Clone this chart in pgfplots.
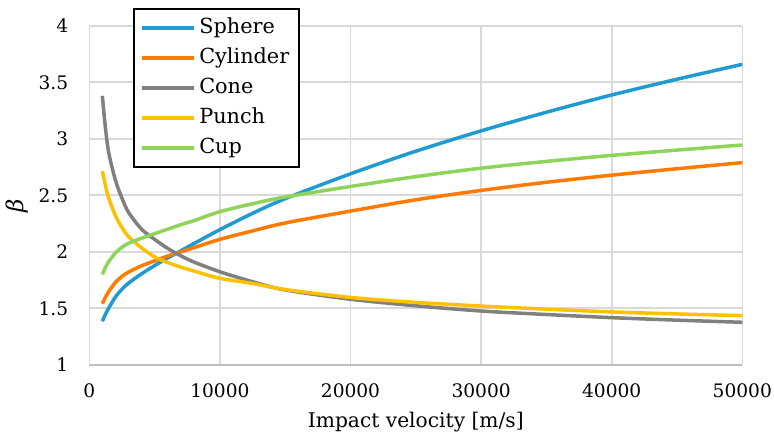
\documentclass[border=0pt]{standalone}
\usepackage{pgfplots}
\pgfplotsset{compat=1.18}
\usepackage{pgfplotstable}
\usepackage{fontspec}
\setmainfont{DejaVu Serif}
\definecolor{csph}{HTML}{1F9BD1}
\definecolor{ccyl}{HTML}{FF7B00}
\definecolor{ccone}{HTML}{808080}
\definecolor{cpun}{HTML}{FFC000}
\definecolor{ccup}{HTML}{8ED45A}
\definecolor{gridc}{HTML}{D9D9D9}
\definecolor{axc}{HTML}{BFBFBF}

\pgfplotstableread{
v sphere cylinder cone punch cup
1000 1.385 1.540 3.380 2.714 1.800
1250 1.450 1.600 3.080 2.580 1.865
1500 1.505 1.650 2.870 2.470 1.915
2000 1.600 1.728 2.634 2.320 1.990
2500 1.668 1.782 2.475 2.215 2.040
3000 1.722 1.820 2.350 2.135 2.075
4000 1.805 1.876 2.200 2.035 2.120
5000 1.878 1.920 2.110 1.955 2.160
6000 1.945 1.962 2.030 1.905 2.200
7000 2.008 1.999 1.965 1.865 2.240
8000 2.072 2.036 1.910 1.830 2.275
10000 2.196 2.110 1.823 1.765 2.355
12500 2.340 2.185 1.735 1.720 2.425
15000 2.470 2.255 1.662 1.666 2.485
20000 2.690 2.360 1.580 1.596 2.578
25000 2.890 2.460 1.522 1.552 2.665
30000 3.070 2.543 1.476 1.520 2.740
35000 3.235 2.615 1.445 1.492 2.800
40000 3.388 2.678 1.417 1.468 2.853
45000 3.527 2.735 1.395 1.450 2.900
50000 3.659 2.789 1.376 1.435 2.945
}\datatable

\begin{document}
\begin{tikzpicture}
\begin{axis}[
  scale only axis,
  width=326.5pt, height=169.5pt,
  xmin=0, xmax=50000, ymin=1, ymax=4,
  xtick={0,10000,20000,30000,40000,50000},
  ytick={1,1.5,2,2.5,3,3.5,4},
  scaled x ticks=false,
  /pgf/number format/assume math mode=true,
  xticklabel style={/pgf/number format/fixed, /pgf/number format/1000 sep={}, yshift=-6pt},
  yticklabel style={/pgf/number format/fixed, /pgf/number format/precision=1, xshift=-7pt},
  tick label style={font=\fontsize{9.3}{11}\selectfont},
  major tick length=0pt,
  grid=major,
  major grid style={gridc, line width=0.8pt},
  axis x line*=bottom,
  axis y line*=left,
  x axis line style={axc, line width=0.8pt},
  y axis line style={gridc, line width=0.8pt},
  xlabel={Impact velocity [m/s]},
  ylabel={\textit{β}},
  xlabel style={at={(rel axis cs:0.5,0)}, anchor=center, yshift=-28.5pt, font=\fontsize{10.1}{12}\selectfont},
  ylabel style={at={([xshift=-36pt,yshift=-5.5pt]rel axis cs:0,0.5)}, anchor=center, font=\fontsize{11.5}{13}\selectfont},
  legend style={at={(rel axis cs:0,1)}, anchor=north west, xshift=21.85pt, yshift=8.9pt,
    draw=black, line width=0.8pt, fill=white,
    font=\fontsize{10.4}{12}\selectfont,
    inner xsep=3pt, inner ysep=2pt, row sep=0pt,
    nodes={inner ysep=2pt, text height=8.5pt, text depth=2.5pt},
    cells={anchor=west}},
  legend image code/.code={\draw[#1, line width=1.75pt] (0pt,0pt) -- (26pt,0pt);},
  every axis plot/.append style={line width=1.75pt, smooth, no markers},
]
\addplot[csph] table[x=v, y=sphere] {\datatable};
\addlegendentry{Sphere}
\addplot[ccyl] table[x=v, y=cylinder] {\datatable};
\addlegendentry{Cylinder}
\addplot[ccone] table[x=v, y=cone] {\datatable};
\addlegendentry{Cone}
\addplot[cpun] table[x=v, y=punch] {\datatable};
\addlegendentry{Punch}
\addplot[ccup] table[x=v, y=cup] {\datatable};
\addlegendentry{Cup}
\end{axis}
\pgfresetboundingbox
\useasboundingbox ([shift={(-44.65pt,-35.1pt)}]current axis.south west) rectangle ([shift={(15.85pt,12.9pt)}]current axis.north east);
\end{tikzpicture}
\end{document}
